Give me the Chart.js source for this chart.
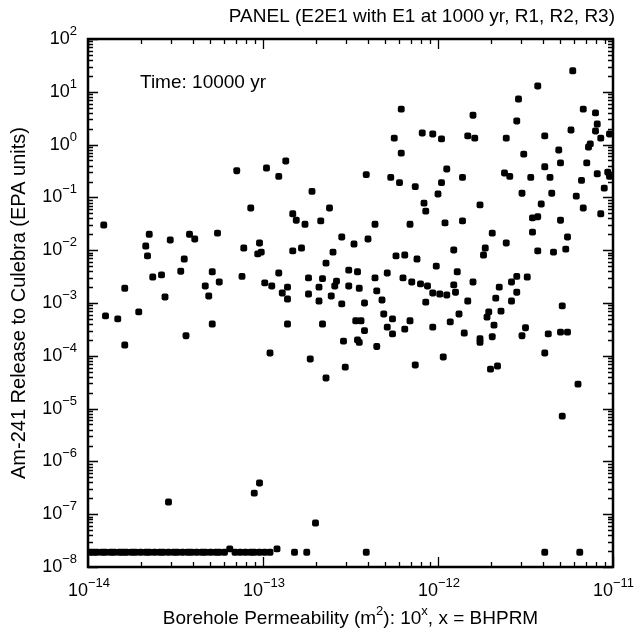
<!DOCTYPE html>
<html>
<head>
    <meta charset="utf-8">
    <title>Am-241 Release to Culebra</title>
    <script src="https://cdn.jsdelivr.net/npm/chart.js@4"></script>
    <style>
        body { margin: 0; background: #fff; }
        #c { display: block; }
    </style>
</head>
<body>
    <canvas id="c" width="642" height="634"></canvas>
    <script>
        var titleText = "PANEL (E2E1 with E1 at 1000 yr, R1, R2, R3)";
        var timeText = "Time: 10000 yr";
        var yTitle = "Am-241 Release to Culebra (EPA units)";

        // decade tick labels (exponents of 10)
        var xTickExps = [-14, -13, -12, -11];
        var yTickExps = [2, 1, 0, -1, -2, -3, -4, -5, -6, -7, -8];

        // x = BHPRM (log10 of borehole permeability), y = release (EPA units)
        var bhprm = [
            -13.91, -13.15, -12.98, -12.87, -12.91, -12.72, -13.07, -12.62, -12.83, -12.81,
            -12.76, -12.67, -13.65, -13.67, -13.66, -13.53, -13.42, -13.39, -13.26, -13.45,
            -13.11, -13.02, -13.01, -13.03, -12.83, -12.78, -12.55, -12.60, -12.64, -13.63,
            -13.58, -13.47, -13.29, -13.25, -13.12, -12.99, -12.95, -12.91, -12.86, -12.74,
            -12.66, -12.68, -12.58, -12.59, -12.51, -12.51, -13.79, -13.33, -13.56, -13.31,
            -12.89, -12.86, -12.74, -12.68, -12.61, -12.55, -12.45, -13.90, -13.83, -13.71,
            -13.79, -13.29, -13.44, -12.96, -12.86, -12.66, -12.73, -12.64, -12.53, -12.47,
            -12.46, -12.45, -12.54, -13.02, -13.05, -13.54, -12.70, -12.48, -12.46,
            -11.23, -11.43, -11.54, -12.21, -11.80, -11.55, -11.17, -11.10, -11.09, -11.10,
            -11.24, -12.25, -12.09, -12.03, -11.98, -11.83, -11.79, -11.61, -11.39, -11.07,
            -11.02, -12.21, -11.31, -11.13, -11.14, -11.51, -11.30, -11.15, -11.39, -12.41,
            -12.27, -12.22, -12.13, -11.95, -11.98, -12.00, -11.86, -11.62, -11.59, -11.47,
            -11.36, -11.18, -11.09, -11.03, -11.02, -11.05, -11.52, -11.35, -11.21, -12.08,
            -12.07, -11.76, -11.41, -11.17, -11.07, -11.46, -11.43, -11.30, -12.36, -12.16,
            -11.96, -11.86, -11.69, -11.46, -11.26, -12.40, -11.61, -11.91, -11.73, -11.74,
            -11.43, -11.34, -11.27, -12.24, -12.19, -12.12, -12.01, -12.29, -11.89, -12.36,
            -12.20, -12.15, -12.10, -12.06, -11.91, -11.80, -11.55, -11.49, -11.58, -11.65,
            -12.35, -12.03, -11.99, -11.95, -11.90, -11.55, -11.67, -11.58, -11.83, -12.42,
            -12.32, -12.07, -11.64, -11.71, -11.72, -11.88, -12.31, -12.44, -12.26, -12.16,
            -11.93, -11.68, -12.29, -12.42, -12.19, -12.03, -11.50, -11.29, -11.37, -11.30,
            -11.26, -12.26, -11.85, -11.76, -11.76, -11.69, -11.52, -12.35, -11.39, -11.97,
            -12.13, -11.70, -11.66, -11.20, -11.29,
            -12.82, -12.75, -12.41, -11.39, -11.19, -13.19, -12.92,
            -13.99, -13.97, -13.95, -13.92, -13.90, -13.87, -13.85, -13.82, -13.80, -13.78,
            -13.75, -13.73, -13.70, -13.67, -13.65, -13.62, -13.59, -13.57, -13.54, -13.51,
            -13.49, -13.46, -13.43, -13.41, -13.38, -13.35, -13.33, -13.30, -13.27, -13.25,
            -13.22, -13.16, -13.13, -13.10, -13.07, -13.05, -13.02, -12.99, -12.96
        ];
        var release = [
            0.030, 0.32, 0.36, 0.49, 0.25, 0.13, 0.063, 0.063, 0.049, 0.037,
            0.031, 0.036, 0.020, 0.012, 0.0078, 0.0156, 0.020, 0.0163, 0.021, 0.0068,
            0.011, 0.0137, 0.0092, 0.0085, 0.0097, 0.011, 0.0178, 0.0092, 0.0057, 0.0031,
            0.0034, 0.0040, 0.0039, 0.0025, 0.0032, 0.0024, 0.0021, 0.0037, 0.0020, 0.0030,
            0.0029, 0.0020, 0.0026, 0.0021, 0.0042, 0.0021, 0.0019, 0.0021, 0.0013, 0.00136,
            0.00155, 0.00119, 0.00148, 0.00109, 0.00136, 0.00096, 0.0019, 0.00057, 0.00050, 0.00068,
            0.00016, 0.00040, 0.00024, 0.000113, 0.00040, 0.00040, 8.7e-5, 3.8e-5, 6.1e-5, 0.00046,
            0.00020, 0.00018, 0.00019, 3.9e-7, 2.5e-7, 1.7e-7, 6.8e-8, 0.0131, 0.0039,
            25, 12.9, 7.3, 4.7, 3.6, 2.8, 4.7, 4.0, 2.45, 1.81,
            1.89, 1.33, 1.66, 1.59, 1.28, 1.46, 1.33, 1.33, 1.46, 1.33,
            1.59, 0.69, 0.79, 1.03, 0.90, 0.66, 0.45, 0.45, 0.38, 0.27,
            0.24, 0.19, 0.16, 0.345, 0.19, 0.116, 0.24, 0.29, 0.25, 0.24,
            0.24, 0.21, 0.28, 0.30, 0.25, 0.15, 0.12, 0.12, 0.106, 0.078,
            0.055, 0.072, 0.075, 0.063, 0.049, 0.041, 0.043, 0.037, 0.031, 0.031,
            0.033, 0.036, 0.021, 0.022, 0.0178, 0.0163, 0.0137, 0.0101, 0.011, 0.0081,
            0.0097, 0.0092, 0.0105, 0.0078, 0.0081, 0.0068, 0.0050, 0.0037, 0.0039, 0.0030,
            0.0030, 0.0025, 0.0023, 0.0021, 0.0022, 0.0025, 0.0032, 0.0031, 0.0025, 0.0020,
            0.0017, 0.00155, 0.00148, 0.00142, 0.0016, 0.0016, 0.00124, 0.00109, 0.00109, 0.00100,
            0.00114, 0.00104, 0.00070, 0.00068, 0.00054, 0.00062, 0.00062, 0.00046, 0.00050, 0.00046,
            0.00044, 0.00038, 0.00035, 0.00030, 0.00032, 0.00035, 0.00034, 0.00088, 0.00026, 0.00028,
            0.00028, 0.00026, 0.00027, 0.00021, 0.00018, 0.00023, 0.00024, 0.00015, 0.000113, 9.5e-5,
            6.7e-5, 5.6e-5, 6.4e-5, 2.9e-5, 7.2e-6,
            1.9e-8, 1.9e-8, 1.9e-8, 1.9e-8, 1.9e-8, 2.2e-8, 2.2e-8,
            1.9e-8, 1.9e-8, 1.9e-8, 1.9e-8, 1.9e-8, 1.9e-8, 1.9e-8, 1.9e-8, 1.9e-8, 1.9e-8,
            1.9e-8, 1.9e-8, 1.9e-8, 1.9e-8, 1.9e-8, 1.9e-8, 1.9e-8, 1.9e-8, 1.9e-8, 1.9e-8,
            1.9e-8, 1.9e-8, 1.9e-8, 1.9e-8, 1.9e-8, 1.9e-8, 1.9e-8, 1.9e-8, 1.9e-8, 1.9e-8,
            1.9e-8, 1.9e-8, 1.9e-8, 1.9e-8, 1.9e-8, 1.9e-8, 1.9e-8, 1.9e-8, 1.9e-8
        ];

        var FONT = '"Liberation Sans", Arial, Helvetica, sans-serif';

        // draw text pieces, some raised as superscripts
        function drawRich(ctx, parts, x, y, align, size, supSize) {
            var w = 0;
            parts.forEach(function(p) {
                ctx.font = (p[1] ? supSize : size) + 'px ' + FONT;
                w += ctx.measureText(p[0]).width;
            });
            var cx = x;
            if (align === 'center') cx = x - w / 2;
            if (align === 'right') cx = x - w;
            ctx.textAlign = 'left';
            ctx.textBaseline = 'middle';
            parts.forEach(function(p) {
                ctx.font = (p[1] ? supSize : size) + 'px ' + FONT;
                ctx.fillText(p[0], cx, p[1] ? y - size * 0.42 : y);
                cx += ctx.measureText(p[0]).width;
            });
        }

        function expText(e) {
            return e < 0 ? '\u2212' + Math.abs(e) : String(e);
        }

        var framePlugin = {
            id: 'frame',
            afterDraw: function(chart) {
                var ctx = chart.ctx, a = chart.chartArea;
                var xs = chart.scales.x, ys = chart.scales.y;
                ctx.save();
                ctx.fillStyle = '#000';
                ctx.strokeStyle = '#000';

                // inward ticks on all four sides
                ctx.lineWidth = 1.3;
                ctx.beginPath();
                xTickExps.forEach(function(e) {
                    for (var m = 1; m <= 9; m++) {
                        if (e === xTickExps[xTickExps.length - 1] && m > 1) break;
                        var px = Math.round(xs.getPixelForValue(m * Math.pow(10, e))) + 0.5;
                        var len = m === 1 ? 10 : 5;
                        ctx.moveTo(px, a.bottom); ctx.lineTo(px, a.bottom - len);
                        ctx.moveTo(px, a.top); ctx.lineTo(px, a.top + len);
                    }
                });
                yTickExps.forEach(function(e) {
                    for (var m = 1; m <= 9; m++) {
                        if (e === yTickExps[0] && m > 1) break;
                        var py = Math.round(ys.getPixelForValue(m * Math.pow(10, e))) + 0.5;
                        var len = m === 1 ? 10 : 5;
                        ctx.moveTo(a.left, py); ctx.lineTo(a.left + len, py);
                        ctx.moveTo(a.right, py); ctx.lineTo(a.right - len, py);
                    }
                });
                ctx.stroke();

                ctx.lineWidth = 2.5;
                ctx.strokeRect(a.left, a.top, a.right - a.left, a.bottom - a.top);

                // decade labels
                xTickExps.forEach(function(e) {
                    var px = xs.getPixelForValue(Math.pow(10, e));
                    drawRich(ctx, [['10', false]], px, a.bottom + 24, 'right', 18, 13);
                    drawRich(ctx, [[expText(e), true]], px, a.bottom + 24, 'left', 18, 13);
                });
                yTickExps.forEach(function(e) {
                    var py = ys.getPixelForValue(Math.pow(10, e));
                    drawRich(ctx, [['10', false], [expText(e), true]], a.left - 11, py, 'right', 18, 13);
                });

                // titles
                drawRich(ctx, [[titleText, false]], a.right + 2, 17, 'right', 19, 13);
                drawRich(ctx, [[timeText, false]], 140, 83, 'left', 19, 13);
                drawRich(ctx, [['Borehole Permeability (m', false], ['2', true], ['): 10', false], ['x', true], [', x = BHPRM', false]],
                    (a.left + a.right) / 2, 619, 'center', 19, 13);

                ctx.save();
                ctx.translate(19, (a.top + a.bottom) / 2);
                ctx.rotate(-Math.PI / 2);
                drawRich(ctx, [[yTitle, false]], 0, 0, 'center', 20, 13);
                ctx.restore();

                ctx.restore();
            }
        };

        var points = bhprm.map(function(b, i) {
            return { x: Math.pow(10, b), y: release[i] };
        });

        new Chart(document.getElementById('c'), {
            type: 'scatter',
            data: {
                datasets: [{
                    data: points,
                    pointStyle: 'rectRounded',
                    pointRadius: 4,
                    backgroundColor: '#000',
                    borderWidth: 0
                }]
            },
            options: {
                responsive: false,
                animation: false,
                layout: { padding: { left: 88, right: 29, top: 39, bottom: 67 } },
                plugins: { legend: { display: false }, tooltip: { enabled: false } },
                scales: {
                    x: { type: 'logarithmic', min: 1e-14, max: 1e-11, display: false },
                    y: { type: 'logarithmic', min: 1e-8, max: 100, display: false }
                }
            },
            plugins: [framePlugin]
        });
    </script>
</body>
</html>
